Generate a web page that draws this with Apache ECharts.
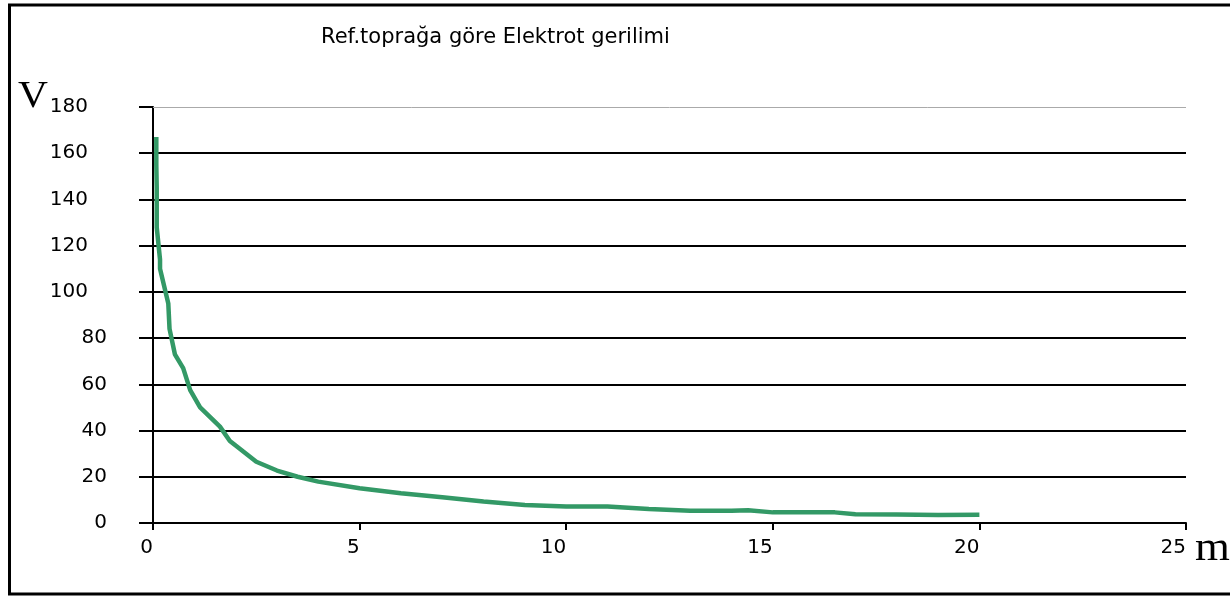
<!DOCTYPE html>
<html>
<head>
<meta charset="utf-8">
<script src="https://cdn.jsdelivr.net/npm/echarts@6/dist/echarts.min.js"></script>
<style>
html,body{margin:0;padding:0;background:#fff;}
#chart{width:1230px;height:597px;}
</style>
</head>
<body>
<div id="chart"></div>
<script>
const titleText = 'Ref.toprağa göre Elektrot gerilimi';
const yUnit = 'V';
const xUnit = 'm';
const distances = [0.08,0.08,0.09,0.09,0.17,0.17,0.37,0.40,0.53,0.73,0.90,1.14,1.62,1.86,2,2.5,3,3.5,4,5,6,7,8,9,10,11,12,13,14,14.4,15,16,16.5,17,18,19,20];
const volts = [167,155,145,128,114,110,95,84,73,67,57.5,50,41.7,35.5,33.5,26.5,22.7,20,17.9,15,12.9,11.1,9.3,7.8,7.1,7.1,6.1,5.3,5.3,5.5,4.6,4.6,4.6,3.8,3.7,3.5,3.6];
const xTicks = [0,5,10,15,20,25];
const yTicks = [0,20,40,60,80,100,120,140,160,180];

const chart = echarts.init(document.getElementById('chart'), null, {renderer:'canvas'});
const font = 'DejaVu Sans';
const option = {
  animation:false,
  backgroundColor:'#fff',
  title:{text:titleText,left:316,top:22,textStyle:{fontFamily:font,fontSize:21,fontWeight:'normal',color:'#000'}},
  grid:{left:153,right:44,top:107,bottom:74},
  xAxis:{type:'value',min:xTicks[0],max:xTicks[xTicks.length-1],interval:5,
    axisLine:{lineStyle:{color:'#000',width:2}},
    axisTick:{length:7,lineStyle:{color:'#000',width:2}},
    splitLine:{show:false},
    axisLabel:{align:'right',margin:15,fontFamily:font,fontSize:20,color:'#000'}},
  yAxis:{type:'value',min:yTicks[0],max:yTicks[yTicks.length-1],interval:20,
    axisLine:{show:true,lineStyle:{color:'#000',width:2}},
    axisTick:{show:true,length:14,lineStyle:{color:'#000',width:2}},
    splitLine:{show:true,showMaxLine:false,lineStyle:{color:'#000',width:2}},
    axisLabel:{margin:46,formatter:function(v){return v>=100?'{w|'+v+'}':'{n|'+v+'}';},
      rich:{w:{fontFamily:font,fontSize:20,color:'#000',padding:[0,19,0,0]},n:{fontFamily:font,fontSize:20,color:'#000'}}}},
  series:[{type:'line',data:distances.map((d,i)=>[d,volts[i]]),symbol:'none',
    lineStyle:{color:'#339966',width:4.5},
    markLine:{silent:true,symbol:'none',label:{show:false},lineStyle:{color:'#aaa',width:1,type:'solid'},data:[{yAxis:180}]}}],
  graphic:[
    {type:'rect',shape:{x:9.5,y:5,width:1240,height:589},style:{fill:null,stroke:'#000',lineWidth:3}},
    {type:'text',x:18,y:79,scaleX:1.12,style:{text:yUnit,font:'37px "Liberation Serif"',fill:'#000'}},
    {type:'text',x:1195,y:529,scaleX:1.12,style:{text:xUnit,font:'40px "Liberation Serif"',fill:'#000'}}
  ]
};
chart.setOption(option);
</script>
</body>
</html>
